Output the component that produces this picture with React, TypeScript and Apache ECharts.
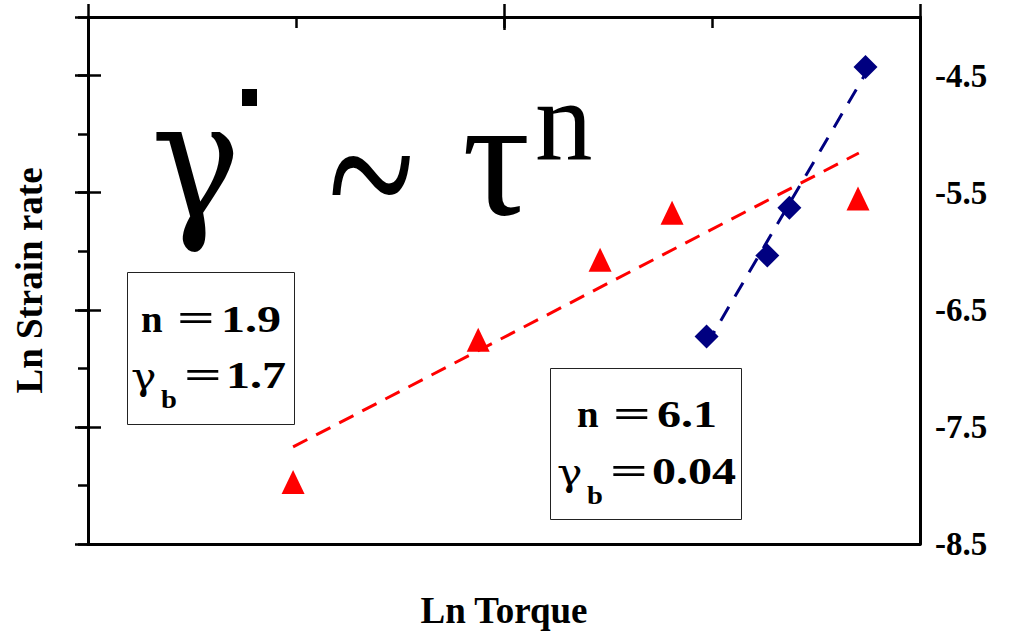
import React, { useEffect, useRef } from "react";
import * as echarts from "echarts";

// Axis ranges (Ln Torque, Ln Strain rate)
const torqueMin = 0;
const torqueMax = 2;
const strainMin = -8.5;
const strainMax = -4;
const yTickLabels = ["-8.5", "-7.5", "-6.5", "-5.5", "-4.5"];

// Red triangles (n = 1.9)
const redX = [0.493, 0.938, 1.231, 1.404, 1.851];
const redY = [-7.97, -6.756, -6.072, -5.671, -5.55];
// Blue diamonds (n = 6.1)
const blueX = [1.487, 1.633, 1.686, 1.869];
const blueY = [-6.728, -6.037, -5.629, -4.426];
// Fit lines
const redFitX = [0.493, 1.853];
const redFitY = [-7.671, -5.161];
const blueFitX = [1.487, 1.869];
const blueFitY = [-6.799, -4.484];

const FONT = "Liberation Serif";
const GREEK = "DejaVu Serif";
const BLACK = "#000";

function txt(text: string, x: number, yMid: number, size: number, sx = 1, weight = "bold", sy = 1, family = FONT) {
  return {
    type: "text",
    x,
    y: yMid,
    scaleX: sx,
    scaleY: sy,
    z: 100,
    style: {
      text,
      fill: BLACK,
      fontFamily: family,
      fontWeight: weight,
      fontSize: size,
      textAlign: "left",
      textVerticalAlign: "middle",
    },
  };
}
// place by baseline
function tb(text: string, x: number, base: number, size: number, sx = 1, weight = "bold", sy = 1, family = FONT) {
  return txt(text, x, base - 0.34 * size * sy, size, sx, weight, sy, family);
}

export default function App() {
  const ref = useRef<HTMLDivElement>(null);
  useEffect(() => {
    if (!ref.current) return;
    const chart = echarts.init(ref.current, null, { renderer: "svg" });
    const zip = (xs: number[], ys: number[]) => xs.map((x, i) => [x, ys[i]]);
    const lineW = 3;
    const tickStyle = { color: BLACK, width: 2.5 };
    const axisLine = () => ({ show: true, onZero: false, lineStyle: { color: BLACK, width: lineW } });
    const noLine = () => ({ show: false, onZero: false });
    const hidden = () => ({ show: false });
    const xBase = () => ({ type: "value", min: torqueMin, max: torqueMax, splitLine: hidden(), axisLabel: hidden() });
    const yBase = () => ({ type: "value", min: strainMin, max: strainMax, splitLine: hidden() });
    const yShift = () => ({ type: "value", min: 0, max: strainMax - strainMin, interval: 1, splitLine: hidden(), axisLabel: hidden() });
    const gridRect = () => ({ left: 88, top: 17, right: 100, bottom: 91, containLabel: false });

    const option: any = {
      animation: false,
      backgroundColor: "#fff",
      grid: [gridRect(), gridRect(), gridRect()],
      xAxis: [
        {
          ...xBase(),
          gridIndex: 0,
          position: "bottom",
          axisLine: axisLine(),
          axisTick: hidden(),
          name: "Ln Torque",
          nameLocation: "middle",
          nameGap: 48,
          nameTextStyle: { fontFamily: FONT, fontWeight: "bold", fontSize: 37, color: BLACK },
        },
        {
          ...xBase(),
          gridIndex: 0,
          position: "top",
          interval: 0.5,
          axisLine: axisLine(),
          axisTick: { show: true, inside: true, length: 11, lineStyle: tickStyle },
        },
        {
          ...xBase(),
          gridIndex: 1,
          position: "top",
          interval: 1,
          axisLine: noLine(),
          axisTick: { show: true, inside: false, length: 13, lineStyle: tickStyle },
        },
        {
          ...xBase(),
          gridIndex: 2,
          position: "top",
          interval: 1,
          axisLine: noLine(),
          axisTick: { show: true, inside: true, length: 13, lineStyle: tickStyle },
        },
      ],
      yAxis: [
        {
          ...yBase(),
          gridIndex: 0,
          position: "left",
          interval: 0.5,
          axisLine: axisLine(),
          axisLabel: hidden(),
          axisTick: { show: true, inside: false, length: 10, lineStyle: tickStyle },
          name: "Ln Strain rate",
          nameLocation: "middle",
          nameRotate: 90,
          nameGap: 40,
          nameTextStyle: { fontFamily: FONT, fontWeight: "bold", fontSize: 37, color: BLACK },
        },
        {
          ...yBase(),
          gridIndex: 0,
          position: "right",
          interval: 0.5,
          axisLine: axisLine(),
          axisTick: hidden(),
          axisLabel: {
            show: true,
            margin: 15,
            fontFamily: FONT,
            fontWeight: "bold",
            fontSize: 33,
            color: BLACK,
            formatter: (v: number) => {
              const s = v.toFixed(1);
              return yTickLabels.includes(s) ? s : "";
            },
          },
        },
        {
          ...yShift(),
          gridIndex: 1,
          position: "left",
          axisLine: noLine(),
          axisTick: { show: true, inside: false, length: 13, lineStyle: tickStyle },
        },
        {
          ...yShift(),
          gridIndex: 2,
          position: "left",
          axisLine: noLine(),
          axisTick: { show: true, inside: true, length: 13, lineStyle: tickStyle },
        },
      ],
      series: [
        {
          type: "line",
          xAxisIndex: 0,
          yAxisIndex: 0,
          data: zip(redFitX, redFitY),
          showSymbol: false,
          lineStyle: { color: "#ff0000", width: 3, type: [16, 10] },
          z: 2,
        },
        {
          type: "line",
          xAxisIndex: 0,
          yAxisIndex: 0,
          data: zip(blueFitX, blueFitY),
          showSymbol: false,
          lineStyle: { color: "#000080", width: 3, type: [16, 12] },
          z: 2,
        },
        {
          type: "scatter",
          xAxisIndex: 0,
          yAxisIndex: 0,
          data: zip(redX, redY),
          symbol: "triangle",
          symbolSize: [23, 24],
          itemStyle: { color: "#ff0000", opacity: 1 },
          z: 3,
        },
        {
          type: "scatter",
          xAxisIndex: 0,
          yAxisIndex: 0,
          data: zip(blueX, blueY),
          symbol: "diamond",
          symbolSize: [24, 24],
          itemStyle: { color: "#000080", opacity: 1 },
          z: 3,
        },
      ],
      graphic: [
        // Big formula
        tb("\u03b3", 151, 217, 150, 1, "normal", 1.1, GREEK),
        { type: "rect", z: 100, shape: { x: 242, y: 89, width: 15, height: 17 }, style: { fill: BLACK } },
        txt("~", 328, 173, 160, 1, "normal", 1.45),
        tb("\u03c4", 462, 215, 170, 1, "normal"),
        tb("n", 535, 160, 115, 1, "normal"),
        // Left box
        { type: "rect", z: 90, shape: { x: 127.5, y: 272.5, width: 167, height: 152 }, style: { fill: "#fff", stroke: "#222", lineWidth: 1 } },
        tb("n", 141, 331.7, 37, 1.05),
        tb("=", 177, 331.7, 37, 1.8),
        tb("1.9", 221, 331.7, 37, 1.3),
        tb("\u03b3", 131, 388.3, 37, 1.15, "normal", 1, GREEK),
        tb("b", 161, 408, 26, 1.1),
        tb("=", 184, 388.3, 37, 1.8),
        tb("1.7", 226, 388.3, 37, 1.3),
        // Right box
        { type: "rect", z: 90, shape: { x: 550.5, y: 368.5, width: 191, height: 151 }, style: { fill: "#fff", stroke: "#222", lineWidth: 1 } },
        tb("n", 577, 427.4, 37, 1.05),
        tb("=", 613, 427.4, 37, 1.8),
        tb("6.1", 657, 427.4, 37, 1.3),
        tb("\u03b3", 557, 484.4, 37, 1.15, "normal", 1, GREEK),
        tb("b", 587, 504, 26, 1.1),
        tb("=", 610, 484.4, 37, 1.8),
        tb("0.04", 652, 484.4, 37, 1.3),
      ],
    };
    chart.setOption(option);
    return () => chart.dispose();
  }, []);
  return (
    <div
      ref={ref}
      style={{ position: "absolute", left: 0, top: 0, width: 1020, height: 635, background: "#fff" }}
    />
  );
}
